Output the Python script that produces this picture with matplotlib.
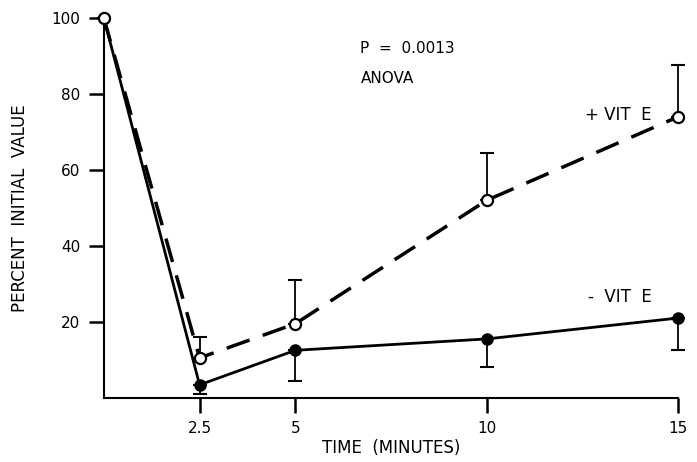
import numpy as np
import matplotlib
matplotlib.use('Agg')
import matplotlib.pyplot as plt

# time points (minutes)
time = [0, 2.5, 5, 10, 15]

# + VIT E (open circles, dashed), error bars drawn upward
plus_vite = [100, 10.5, 19.5, 52, 74]
plus_err_up = [0, 5.5, 11.5, 12.5, 13.5]

# - VIT E (filled circles, solid), error bars drawn downward
minus_vite = [100, 3.4, 12.5, 15.5, 21]
minus_err_down = [0, 2.4, 8, 7.5, 8.4]

xticks = [2.5, 5, 10, 15]
xticklabels = ['2.5', '5', '10', '15']
yticks = [20, 40, 60, 80, 100]

plt.rcParams['font.family'] = 'DejaVu Sans'

fig = plt.figure(figsize=(6.97, 4.62), dpi=100)
ax = fig.add_axes([0.149, 0.139, 0.824, 0.822])

zeros = [0] * len(time)

ax.errorbar(time, plus_vite, yerr=[zeros, plus_err_up], fmt='none',
            ecolor='black', elinewidth=1.3, capsize=5, capthick=1.5, clip_on=False)
ax.errorbar(time, minus_vite, yerr=[minus_err_down, zeros], fmt='none',
            ecolor='black', elinewidth=1.3, capsize=5, capthick=1.5, clip_on=False)

ax.plot(time, minus_vite, color='black', linestyle='-', linewidth=2,
        marker='o', markersize=8, markerfacecolor='black', markeredgecolor='black',
        clip_on=False, zorder=3)
ax.plot(time, plus_vite, color='black', linestyle=(0, (7, 4)), linewidth=2.5,
        marker='o', markersize=8, markerfacecolor='white', markeredgecolor='black',
        markeredgewidth=1.6, clip_on=False, zorder=4)

ax.set_xlim(0, 15)
ax.set_ylim(0, 100)
ax.set_xticks(xticks)
ax.set_xticklabels(xticklabels)
ax.set_yticks(yticks)

for s in ['top', 'right']:
    ax.spines[s].set_visible(False)
for s in ['left', 'bottom']:
    ax.spines[s].set_linewidth(1.5)

ax.tick_params(axis='both', direction='out', length=11, width=1.8, labelsize=11, pad=6)

ax.set_xlabel('TIME  (MINUTES)', fontsize=12, labelpad=2)
ax.set_ylabel('PERCENT  INITIAL  VALUE', fontsize=12, labelpad=16)

ax.text(6.7, 92, 'P  =  0.0013', fontsize=11, ha='left', va='center')
ax.text(6.7, 84, 'ANOVA', fontsize=11, ha='left', va='center')
ax.text(14.3, 74.5, '+ VIT  E', fontsize=12, ha='right', va='center')
ax.text(14.3, 26.5, '-  VIT  E', fontsize=12, ha='right', va='center')

fig.savefig('out.png', dpi=100)
